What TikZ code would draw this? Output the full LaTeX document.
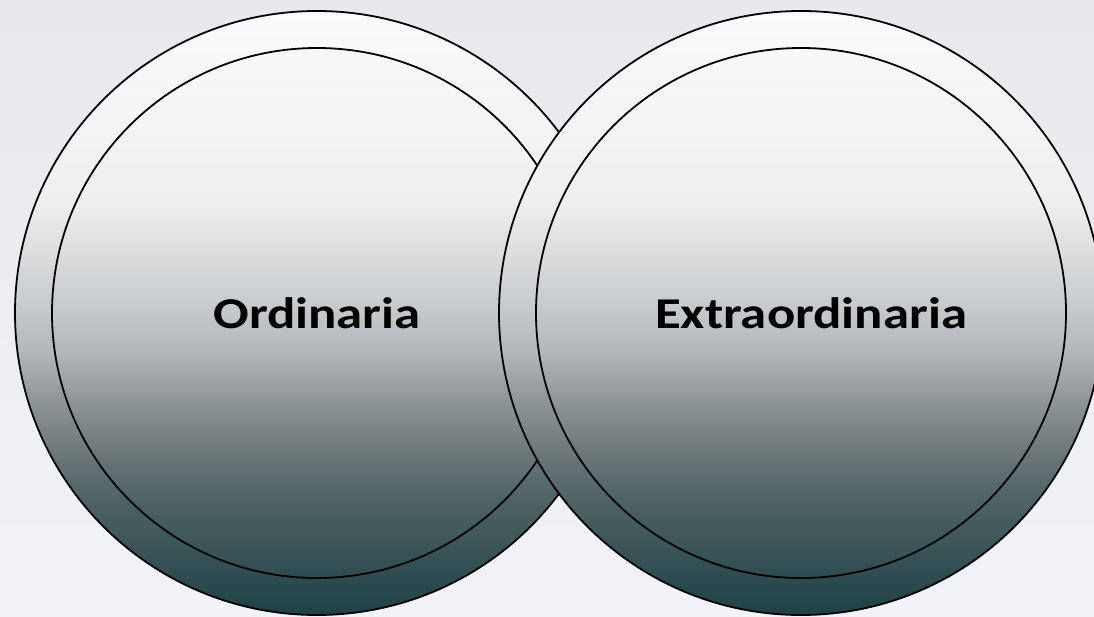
\documentclass[tikz,border=0pt]{standalone}
\usepackage{fontspec}
\newfontfamily\labelfont[FakeStretch=1.2]{Carlito}
\usetikzlibrary{positioning}

\definecolor{bgtop}{HTML}{E7E9EC}
\definecolor{bgbot}{HTML}{F2F3F6}
\definecolor{ringA}{HTML}{1E4146}
\definecolor{ringB}{HTML}{4E6264}
\definecolor{ringC}{HTML}{6D7879}
\definecolor{ringD}{HTML}{8E9597}
\definecolor{ringE}{HTML}{B3B8BA}
\definecolor{ringF}{HTML}{C9CCCE}
\definecolor{ringG}{HTML}{EEEFF1}
\definecolor{ringH}{HTML}{FAFBFD}

\pgfdeclareverticalshading{ringshade}{100bp}{%
  color(0bp)=(ringA); color(25bp)=(ringA);
  color(34.5bp)=(ringB); color(38.6bp)=(ringC);
  color(42.7bp)=(ringD); color(46.9bp)=(ringE);
  color(51bp)=(ringF); color(59.3bp)=(ringG);
  color(75bp)=(ringH); color(100bp)=(ringH)}

\begin{document}
\begin{tikzpicture}[
  x=1pt, y=-1pt,
  ring/.style={circle, draw, line width=1.8pt, inner sep=0pt,
    minimum size=604pt, shading=ringshade},
  core/.style={circle, draw, line width=1.8pt, inner sep=0pt,
    minimum size=530pt},
  word/.style={font=\labelfont\bfseries\fontsize{44}{52}\selectfont}
]
\useasboundingbox (0,0) rectangle (1094,616);
\shade[top color=bgtop, bottom color=bgbot] (0,0) rectangle (1094,616);

\node[ring] (ordring) at (317,313) {};
\node[core] (ord) at (ordring) {};
\node[word] (ordtext) at (ord) {Ordinaria};

\node[ring] (extring) at (801,313) {};
\node[core] (ext) at (extring) {};
\node[word, xshift=10pt] (exttext) at (ext) {Extraordinaria};
\end{tikzpicture}
\end{document}
